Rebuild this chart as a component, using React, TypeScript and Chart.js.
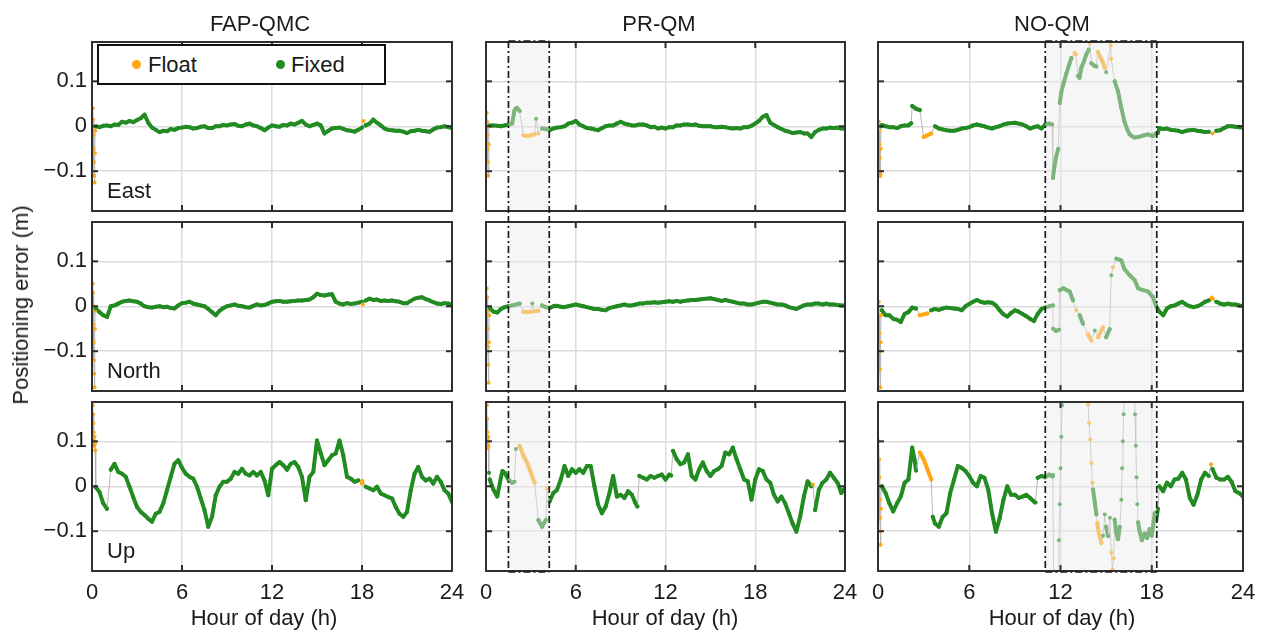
import React, { useEffect, useRef } from 'react';
import { Chart, registerables } from 'chart.js';

Chart.register(...registerables);

// ---------- axes / labels ----------
const X_TICKS = [0, 6, 12, 18, 24];
const Y_TICKS = [-0.1, 0, 0.1];
const Y_MIN = -0.1885;
const Y_MAX = 0.1875;
const METHODS = ['FAP-QMC', 'PR-QM', 'NO-QM'];
const COMPONENTS = ['East', 'North', 'Up'];
const LEGEND = ['Float', 'Fixed'];
const X_LABEL = 'Hour of day (h)';
const Y_LABEL = 'Positioning error (m)';

// shaded (outage) intervals, hours
const SHADE_PR = [1.5, 4.23];
const SHADE_NO = [11.0, 18.33];

// common sampling hours (every 15 min)
const STEP_H = 0.25;
const GRID_H = Array.from({ length: 97 }, (_, i) => i * STEP_H);

// ---------- FAP-QMC ----------
const FAP_E = [
  null, 0.000, -0.002, 0.001, 0.002, 0.000, 0.004, 0.003,
  0.010, 0.008, 0.012, 0.009, 0.014, 0.018, 0.026, 0.008,
  -0.003, -0.008, -0.013, -0.010, -0.011, -0.006, -0.008, -0.004,
  -0.003, -0.001, -0.002, -0.005, -0.004, -0.001, 0.000, -0.004,
  -0.004, 0.000, 0.000, 0.003, 0.002, 0.004, 0.005, 0.001,
  0.000, 0.004, 0.006, 0.002, 0.000, -0.004, -0.009, -0.003,
  0.002, 0.000, -0.001, 0.003, 0.002, 0.006, 0.004, 0.008,
  0.012, 0.004, 0.000, 0.003, 0.006, 0.002, -0.016, -0.010,
  -0.005, -0.004, -0.003, -0.006, -0.009, -0.010, -0.012, -0.008,
  -0.003, 0.002, 0.006, 0.015, 0.008, 0.002, -0.005, -0.008,
  -0.009, -0.010, -0.010, -0.012, -0.015, -0.011, -0.010, -0.008,
  -0.010, -0.011, -0.012, -0.007, -0.003, -0.002, 0.000, -0.002,
  -0.004,
];
const FAP_E_X = [[0.05, 0.04], [0.07, 0.015], [0.09, -0.02], [0.11, -0.05], [0.13, -0.08], [0.15, -0.11], [0.17, -0.125], [0.19, -0.06], [0.21, -0.01], [18.1, 0.012]];
const FAP_E_F = [[0, 0.22], [18.08, 18.12]];

const FAP_N = [
  null, -0.005, -0.013, -0.020, -0.024, 0.000, 0.002, 0.006,
  0.010, 0.012, 0.013, 0.011, 0.010, 0.006, 0.000, -0.002,
  -0.003, -0.001, 0.000, -0.002, -0.001, -0.004, -0.005, 0.002,
  0.007, 0.008, 0.010, 0.006, 0.004, 0.002, 0.000, -0.006,
  -0.013, -0.020, -0.010, -0.004, 0.000, 0.002, 0.004, 0.001,
  0.000, -0.002, -0.003, 0.001, 0.004, 0.002, 0.003, 0.006,
  0.010, 0.011, 0.012, 0.010, 0.010, 0.011, 0.012, 0.013,
  0.013, 0.014, 0.015, 0.020, 0.028, 0.025, 0.024, 0.026,
  0.027, 0.010, 0.006, 0.004, 0.007, 0.005, 0.006, 0.008,
  0.010, 0.013, 0.017, 0.014, 0.015, 0.012, 0.013, 0.012,
  0.013, 0.011, 0.010, 0.007, 0.007, 0.012, 0.017, 0.019,
  0.020, 0.016, 0.013, 0.009, 0.006, 0.005, 0.007, 0.006,
  0.004,
];
const FAP_N_X = [[0.05, 0.05], [0.07, 0.03], [0.09, 0.0], [0.1, -0.04], [0.12, -0.08], [0.13, -0.12], [0.15, -0.15], [0.17, -0.18], [0.19, -0.05], [0.21, -0.01], [18.05, 0.004]];
const FAP_N_F = [[0, 0.22], [18.03, 18.07]];

const FAP_U = [
  null, -0.002, -0.013, -0.038, -0.050, 0.037, 0.050, 0.032,
  0.028, 0.021, -0.001, -0.024, -0.046, -0.057, -0.064, -0.072,
  -0.079, -0.061, -0.057, -0.038, -0.009, 0.021, 0.050, 0.058,
  0.041, 0.028, 0.021, 0.017, -0.001, -0.027, -0.053, -0.090,
  -0.068, -0.020, -0.001, 0.010, 0.010, 0.017, 0.032, 0.028,
  0.039, 0.028, 0.024, 0.032, 0.024, 0.032, 0.013, -0.020,
  0.039, 0.047, 0.054, 0.047, 0.037, 0.050, 0.054, 0.043,
  0.021, -0.031, 0.021, 0.032, 0.102, 0.073, 0.047, 0.058,
  0.069, 0.073, 0.102, 0.069, 0.021, 0.017, 0.010, 0.013,
  0.006, -0.001, -0.005, -0.009, -0.001, -0.016, -0.020, -0.024,
  -0.027, -0.046, -0.061, -0.068, -0.057, -0.009, 0.028, 0.043,
  0.021, 0.013, 0.017, 0.006, 0.021, 0.010, -0.009, -0.016,
  -0.035,
];
const FAP_U_X = [[0.05, 0.18], [0.07, 0.16], [0.09, 0.14], [0.11, 0.12], [0.13, 0.1], [0.15, 0.09], [0.17, 0.11], [0.19, 0.095], [0.21, 0.08], [18.02, 0.012]];
const FAP_U_F = [[0, 0.22], [18.0, 18.04]];

// ---------- PR-QM ----------
const PR_E = [
  null, 0.002, 0.002, 0.001, 0.000, 0.002, 0.004, 0.006,
  0.040, 0.034, -0.020, -0.022, -0.020, -0.018, -0.016, -0.005,
  -0.006, -0.009, -0.005, -0.003, -0.002, 0.000, 0.006, 0.008,
  0.012, 0.004, 0.000, -0.004, -0.005, -0.007, -0.009, -0.004,
  0.000, 0.002, 0.002, 0.006, 0.010, 0.006, 0.004, 0.002,
  0.002, 0.004, 0.004, 0.002, -0.002, -0.001, -0.005, -0.003,
  -0.005, -0.002, -0.002, 0.002, 0.002, 0.004, 0.004, 0.003,
  0.004, 0.001, 0.000, 0.000, 0.000, -0.002, -0.002, -0.001,
  -0.002, -0.004, -0.005, -0.004, -0.005, -0.002, -0.002, 0.001,
  0.006, 0.012, 0.021, 0.025, 0.008, 0.003, -0.002, -0.006,
  -0.010, -0.012, -0.015, -0.014, -0.013, -0.016, -0.016, -0.024,
  -0.013, -0.008, -0.005, -0.005, -0.003, -0.004, -0.003, -0.005,
  -0.005,
];
const PR_E_X = [[0.05, 0.03], [0.07, 0.01], [0.09, -0.02], [0.11, -0.05], [0.13, -0.08], [0.15, -0.11], [0.17, -0.04], [0.2, 0.0], [1.9, 0.035], [2.07, 0.041], [3.35, 0.017]];
const PR_E_F = [[0, 0.22], [2.4, 3.3], [3.4, 3.6]];

const PR_N = [
  null, -0.004, -0.012, -0.014, -0.006, -0.002, 0.000, 0.002,
  0.004, 0.006, -0.012, -0.013, -0.012, -0.011, -0.010, 0.002,
  -0.002, -0.004, 0.000, 0.001, -0.001, -0.002, 0.000, 0.002,
  0.004, 0.002, 0.000, -0.002, -0.004, -0.006, -0.006, -0.008,
  -0.009, -0.004, -0.002, 0.000, 0.002, 0.004, 0.002, 0.002,
  0.004, 0.006, 0.006, 0.008, 0.008, 0.009, 0.008, 0.009,
  0.010, 0.011, 0.010, 0.012, 0.010, 0.012, 0.013, 0.014,
  0.014, 0.015, 0.016, 0.017, 0.018, 0.016, 0.014, 0.012,
  0.014, 0.012, 0.010, 0.008, 0.006, 0.006, 0.004, 0.004,
  0.006, 0.008, 0.010, 0.010, 0.008, 0.006, 0.004, 0.004,
  0.002, -0.002, -0.004, -0.006, -0.002, 0.002, 0.004, 0.004,
  0.006, 0.006, 0.004, 0.006, 0.004, 0.004, 0.003, 0.002,
  0.002,
];
const PR_N_X = [[0.05, 0.04], [0.07, 0.02], [0.09, -0.01], [0.11, -0.05], [0.13, -0.09], [0.15, -0.13], [0.17, -0.17], [0.19, -0.08], [0.21, -0.02], [3.1, 0.006]];
const PR_N_F = [[0, 0.22], [2.4, 3.05], [3.15, 3.6]];

const PR_U = [
  null, 0.015, -0.008, -0.023, 0.020, 0.030, 0.015, 0.008,
  0.083, 0.090, 0.068, 0.053, 0.030, 0.008, -0.075, -0.090,
  -0.075, -0.034, -0.015, -0.008, 0.015, 0.045, 0.023, 0.038,
  0.030, 0.038, 0.030, 0.045, 0.045, 0.000, -0.041, -0.060,
  -0.045, -0.015, 0.023, -0.023, -0.019, -0.026, -0.011, -0.019,
  -0.038, 0.023, 0.019, 0.015, 0.023, 0.019, 0.023, 0.026,
  0.015, 0.026, 0.079, 0.060, 0.049, 0.053, 0.071, 0.023,
  0.015, 0.038, 0.053, 0.034, 0.023, 0.034, 0.038, 0.045,
  0.075, 0.071, 0.086, 0.060, 0.038, 0.015, 0.011, -0.030,
  0.015, 0.038, 0.034, 0.015, 0.008, -0.019, -0.034, -0.023,
  -0.038, -0.060, -0.083, -0.101, -0.068, -0.023, 0.011, 0.000,
  -0.053, -0.008, 0.008, 0.015, 0.030, 0.019, 0.008, -0.015,
  -0.004,
];
const PR_U_X = [[0.05, 0.18], [0.07, 0.15], [0.09, 0.12], [0.11, 0.1], [0.13, 0.085], [0.15, 0.11], [0.17, 0.09], [0.2, 0.03], [1.1, 0.034], [1.9, 0.01], [4.08, -0.005], [10.12, -0.045], [12.38, 0.024], [21.85, 0.004]];
const PR_U_F = [[0, 0.19], [2.2, 3.3], [4.05, 4.1], [21.83, 21.87]];

// ---------- NO-QM ----------
const NO_E = [
  null, 0.003, 0.000, -0.002, -0.002, -0.004, 0.000, 0.002,
  0.002, 0.045, 0.039, 0.036, -0.024, -0.020, -0.016, 0.000,
  -0.005, -0.007, -0.009, -0.010, -0.010, -0.008, -0.005, -0.004,
  -0.002, 0.002, 0.004, 0.002, 0.000, -0.003, -0.005, -0.002,
  0.000, 0.004, 0.006, 0.007, 0.008, 0.006, 0.004, 0.000,
  -0.005, -0.002, 0.000, -0.005, null, null, null, null,
  null, null, null, null, null, null, null, null,
  null, null, null, null, null, null, null, null,
  null, null, null, null, null, null, null, null,
  null, null, -0.004, -0.006, -0.005, -0.008, -0.009, -0.010,
  -0.013, -0.010, -0.009, -0.008, -0.010, -0.011, -0.013, -0.012,
  -0.016, -0.010, -0.009, -0.004, 0.000, 0.000, -0.001, -0.002,
  -0.003,
];
const NO_E_X = [
  [0.05, 0.01], [0.07, -0.01], [0.09, -0.04], [0.11, -0.07], [0.13, -0.1], [0.15, -0.11], [0.17, -0.05], [0.2, 0.0], [2.18, 0.007],
  [11.0, 0.004], [11.25, 0.006], [11.45, 0.004], [11.5, -0.115], [11.6, -0.09], [11.7, -0.07], [11.85, -0.05], [11.95, 0.052], [12.06, 0.077],
  [12.2, 0.095], [12.39, 0.118], [12.55, 0.135], [12.72, 0.152], [12.93, 0.163], [13.0, 0.16], [13.15, 0.112], [13.25, 0.108], [13.37, 0.13],
  [13.55, 0.145], [13.7, 0.16], [13.85, 0.17], [13.92, 0.186], [14.03, 0.14], [14.2, 0.135], [14.36, 0.133], [14.45, 0.165], [14.6, 0.155],
  [14.75, 0.145], [14.91, 0.13], [15.0, 0.12], [15.3, 0.18], [15.34, 0.15], [15.56, 0.1], [15.78, 0.078], [16.0, 0.041], [16.2, 0.011],
  [16.4, -0.008], [16.55, -0.018], [16.7, -0.022], [16.87, -0.025], [17.1, -0.024], [17.31, -0.022], [17.5, -0.02], [17.75, -0.018],
  [17.9, -0.02], [18.08, -0.022], [18.25, -0.016], [18.4, -0.015],
];
const NO_E_F = [[0, 0.19], [2.8, 3.6], [12.9, 13.05], [13.9, 13.95], [14.4, 14.95], [15.28, 15.37], [21.95, 22.05]];

const NO_N = [
  null, -0.009, -0.020, -0.020, -0.028, -0.030, -0.035, -0.017,
  -0.013, -0.003, -0.005, -0.020, -0.018, -0.016, -0.009, -0.006,
  -0.008, -0.005, -0.003, -0.004, -0.005, -0.006, -0.009, 0.000,
  0.005, 0.010, 0.014, 0.010, 0.008, 0.009, 0.008, 0.002,
  -0.009, -0.018, -0.023, -0.015, -0.009, -0.012, -0.017, -0.022,
  -0.028, -0.033, -0.017, -0.006, -0.003, 0.000, null, null,
  null, null, null, null, null, null, null, null,
  null, null, null, null, null, null, null, null,
  null, null, null, null, null, null, null, null,
  null, null, -0.012, -0.020, -0.005, 0.000, 0.002, 0.006,
  0.010, 0.004, 0.000, -0.002, 0.000, 0.004, 0.010, 0.013,
  0.017, 0.010, 0.006, 0.004, 0.006, 0.004, 0.004, 0.002,
  0.000,
];
const NO_N_X = [
  [0.05, 0.01], [0.07, -0.02], [0.09, -0.06], [0.11, -0.1], [0.13, -0.14], [0.15, -0.18], [0.17, -0.08], [0.2, -0.02],
  [11.5, 0.002], [11.52, -0.05], [11.7, -0.055], [11.9, -0.052], [11.95, 0.036], [12.2, 0.04], [12.4, 0.036], [12.6, 0.033], [12.83, 0.013],
  [13.04, -0.009], [13.26, -0.02], [13.48, -0.039], [13.8, -0.062], [14.03, -0.076], [14.25, -0.054], [14.47, -0.069], [14.8, -0.047],
  [15.0, -0.069], [15.23, -0.051], [15.34, 0.069], [15.45, 0.087], [15.67, 0.106], [16.0, 0.102], [16.2, 0.083], [16.55, 0.069],
  [16.88, 0.058], [17.1, 0.04], [17.42, 0.036], [17.75, 0.033], [18.07, 0.021], [18.3, -0.001], [21.95, 0.019],
];
const NO_N_F = [[0, 0.21], [2.6, 3.3], [12.98, 13.1], [13.7, 14.1], [14.4, 14.9], [15.4, 15.5], [21.9, 22.0]];

const NO_U = [
  null, 0.000, -0.015, -0.038, -0.056, -0.038, -0.023, 0.008,
  0.015, 0.086, 0.035, 0.075, 0.060, 0.038, 0.015, -0.083,
  -0.090, -0.068, -0.060, -0.015, 0.015, 0.045, 0.041, 0.034,
  0.023, 0.008, 0.000, 0.023, 0.019, -0.008, -0.060, -0.101,
  -0.071, -0.030, 0.000, -0.019, -0.019, -0.026, -0.023, -0.019,
  -0.026, -0.034, 0.019, 0.023, null, null, null, null,
  null, null, null, null, null, null, null, null,
  null, null, null, null, null, null, null, null,
  null, null, null, null, null, null, null, null,
  null, null, 0.000, -0.011, 0.008, 0.000, 0.015, 0.017,
  0.030, 0.015, -0.026, -0.041, -0.019, 0.015, 0.030, 0.023,
  0.038, 0.019, 0.015, 0.015, 0.021, 0.010, -0.011, -0.015,
  -0.023,
];
const NO_U_X = [
  [0.05, 0.1], [0.07, 0.06], [0.09, 0.02], [0.11, -0.03], [0.13, -0.07], [0.15, -0.1], [0.17, -0.13], [0.19, -0.05], [0.21, 0.0],
  [2.4, 0.06], [3.6, -0.068], [10.35, -0.036],
  [11.0, 0.02], [11.25, 0.026], [11.45, 0.022], [11.5, 0.025], [11.55, -0.25], [11.85, -0.25], [11.9, -0.12], [11.95, -0.04], [12.0, 0.04],
  [12.05, 0.11], [12.1, 0.18], [12.15, 0.25], [13.78, 0.25], [13.81, 0.182], [13.88, 0.141], [13.95, 0.104], [14.03, 0.052], [14.1, 0.008],
  [14.14, -0.007], [14.25, -0.035], [14.36, -0.063], [14.42, -0.081], [14.5, -0.1], [14.6, -0.115], [14.69, -0.126], [14.8, -0.11],
  [14.91, -0.063], [15.0, -0.09], [15.13, -0.111], [15.25, -0.07], [15.34, -0.148], [15.42, -0.185], [15.5, -0.16], [15.56, -0.074],
  [15.65, -0.1], [15.78, -0.118], [15.9, -0.09], [16.0, -0.03], [16.05, 0.04], [16.1, 0.1], [16.15, 0.16], [16.2, 0.25], [16.85, 0.25],
  [16.9, 0.16], [16.95, 0.09], [17.0, 0.02], [17.05, -0.04], [17.1, -0.08], [17.2, -0.1], [17.35, -0.12], [17.53, -0.105], [17.7, -0.115],
  [17.86, -0.095], [18.0, -0.11], [18.1, -0.085], [18.19, -0.06], [18.3, -0.075], [18.4, -0.05], [21.9, 0.049],
];
const NO_U_F = [[0, 0.22], [2.6, 3.55], [13.75, 14.12], [14.4, 14.75], [15.3, 15.52], [21.88, 21.92]];

const PANELS = [
  [{ v: FAP_E, x: FAP_E_X, f: FAP_E_F }, { v: PR_E, x: PR_E_X, f: PR_E_F }, { v: NO_E, x: NO_E_X, f: NO_E_F }],
  [{ v: FAP_N, x: FAP_N_X, f: FAP_N_F }, { v: PR_N, x: PR_N_X, f: PR_N_F }, { v: NO_N, x: NO_N_X, f: NO_N_F }],
  [{ v: FAP_U, x: FAP_U_X, f: FAP_U_F }, { v: PR_U, x: PR_U_X, f: PR_U_F }, { v: NO_U, x: NO_U_X, f: NO_U_F }],
];
const SHADES = [null, SHADE_PR, SHADE_NO];

// ---------- layout & style ----------
const FONT = "'Liberation Sans', Arial, Helvetica, sans-serif";
const FS = 22;
const TEXT = '#1a1a1a';
const GREEN = 'rgb(34,139,34)';
const ORANGE = 'rgb(255,168,20)';
const LINK = 'rgba(175,175,175,0.9)';
const GRID = '#dcdcdc';
const FRAME = '#2f2f2f';

// canvas bounds (cl/cr, ct/cb) and plot-area bounds (al/ar, at/ab), px
const COLS = [
  { cl: 0, cr: 468, al: 92, ar: 452, titleX: 260, labelX: 264 },
  { cl: 468, cr: 861, al: 486, ar: 845, titleX: 659, labelX: 665 },
  { cl: 861, cr: 1263, al: 878, ar: 1243, titleX: 1052, labelX: 1062 },
];
const ROWS = [
  { ct: 0, cb: 216, at: 42, ab: 211 },
  { ct: 216, cb: 396, at: 222, ab: 391 },
  { ct: 396, cb: 634, at: 402, ab: 571 },
];

function buildPoints(v: (number | null)[], extra: number[][]) {
  const pts: { x: number; y: number }[] = [];
  v.forEach((y, i) => { if (y !== null) pts.push({ x: GRID_H[i], y }); });
  extra.forEach(([x, y]) => pts.push({ x, y }));
  pts.sort((a, b) => a.x - b.x);
  return pts;
}
const inFloat = (h: number, ranges: number[][]) => ranges.some(([a, b]) => h >= a && h <= b);

const panelDecor = {
  id: 'panelDecor',
  afterDatasetsDraw(chart: any, _args: any, opts: any) {
    const { ctx, chartArea: a } = chart;
    const xs = chart.scales.x, ys = chart.scales.y;
    const line = (x1: number, y1: number, x2: number, y2: number) => {
      ctx.beginPath(); ctx.moveTo(x1, y1); ctx.lineTo(x2, y2); ctx.stroke();
    };
    ctx.save();
    let x0 = 0, x1 = 0;
    if (opts.shade) {
      x0 = xs.getPixelForValue(opts.shade[0]);
      x1 = xs.getPixelForValue(opts.shade[1]);
      ctx.fillStyle = 'rgba(236,236,236,0.45)';
      ctx.fillRect(x0, a.top, x1 - x0, a.bottom - a.top);
    }
    ctx.strokeStyle = FRAME;
    ctx.lineWidth = 2;
    ctx.strokeRect(a.left, a.top, a.right - a.left, a.bottom - a.top);
    const T = 6;
    X_TICKS.forEach((v) => {
      const px = xs.getPixelForValue(v);
      line(px, a.top, px, a.top + T);
      line(px, a.bottom, px, a.bottom - T);
    });
    Y_TICKS.forEach((v) => {
      const py = ys.getPixelForValue(v);
      line(a.left, py, a.left + T, py);
      line(a.right, py, a.right - T, py);
    });
    if (opts.shade) {
      ctx.strokeStyle = '#1c1c1c';
      ctx.lineWidth = 1.7;
      ctx.setLineDash([7, 3, 2, 3]);
      const top = opts.row === 0 ? a.top - 1 : 0;
      const bottom = opts.row === 2 ? a.bottom + 1 : chart.height;
      line(x0, top, x0, bottom);
      line(x1, top, x1, bottom);
      if (opts.row === 0) line(x0, a.top - 1, x1, a.top - 1);
      if (opts.row === 2) line(x0, a.bottom + 1, x1, a.bottom + 1);
    }
    ctx.restore();
  },
};

const fmtY = (v: number) => (Math.abs(v) < 1e-9 ? '0' : v > 0 ? '0.1' : '\u22120.1');

export default function App() {
  const refs = useRef<(HTMLCanvasElement | null)[]>([]);

  useEffect(() => {
    const charts: Chart[] = [];
    ROWS.forEach((row, r) => {
      COLS.forEach((col, c) => {
        const cv = refs.current[r * 3 + c];
        if (!cv) return;
        const p = PANELS[r][c];
        const pts = buildPoints(p.v as (number | null)[], p.x);
        const fl = pts.map((pt) => inFloat(pt.x, p.f));
        const segStyle = (ctx: any) => {
          const i0 = ctx.p0DataIndex, i1 = ctx.p1DataIndex;
          const a = pts[i0], b = pts[i1];
          const dy = Math.abs(b.y - a.y), dx = Math.max(b.x - a.x, 1e-6);
          const jump = (dy > 0.012 && dy / dx > 0.3) || dx > 0.6;
          if (jump || fl[i0] !== fl[i1]) return null;
          return fl[i0] ? ORANGE : GREEN;
        };
        const chart = new Chart(cv, {
          type: 'line',
          data: {
            datasets: [{
              label: `${METHODS[c]} ${COMPONENTS[r]}`,
              data: pts,
              borderColor: LINK,
              borderWidth: 1,
              borderJoinStyle: 'round',
              borderCapStyle: 'round',
              pointRadius: 2,
              pointHoverRadius: 2,
              pointBorderWidth: 0,
              pointBackgroundColor: fl.map((f) => (f ? ORANGE : GREEN)),
              pointBorderColor: fl.map((f) => (f ? ORANGE : GREEN)),
              tension: 0,
              fill: false,
              segment: {
                borderColor: (ctx: any) => segStyle(ctx) || LINK,
                borderWidth: (ctx: any) => (segStyle(ctx) ? 4 : 1),
              },
            }],
          },
          options: {
            responsive: false,
            animation: false,
            events: [],
            layout: { padding: { left: 0, right: col.cr - col.ar, top: row.at - row.ct, bottom: 0 } },
            plugins: {
              legend: { display: false },
              tooltip: { enabled: false },
              panelDecor: { shade: SHADES[c], row: r },
            } as any,
            scales: {
              x: {
                type: 'linear',
                min: 0,
                max: 24,
                afterBuildTicks: (s: any) => { s.ticks = X_TICKS.map((v) => ({ value: v })); },
                afterFit: (s: any) => {
                  s.height = row.cb - row.ab;
                  s.paddingLeft = 0; s.paddingRight = 0; s.paddingTop = 0; s.paddingBottom = 0;
                },
                grid: { color: GRID, lineWidth: 1.5, drawTicks: false },
                border: { display: false },
                ticks: {
                  display: r === 2,
                  padding: 9,
                  maxRotation: 0,
                  autoSkip: false,
                  color: TEXT,
                  font: { family: FONT, size: FS },
                },
              },
              y: {
                min: Y_MIN,
                max: Y_MAX,
                afterBuildTicks: (s: any) => { s.ticks = Y_TICKS.map((v) => ({ value: v })); },
                afterFit: (s: any) => {
                  s.width = col.al - col.cl;
                  s.paddingLeft = 0; s.paddingRight = 0; s.paddingTop = 0; s.paddingBottom = 0;
                },
                grid: { color: GRID, lineWidth: 1.5, drawTicks: false },
                border: { display: false },
                ticks: {
                  display: c === 0,
                  padding: 5,
                  color: TEXT,
                  font: { family: FONT, size: FS },
                  callback: (v: any) => fmtY(Number(v)),
                },
              },
            },
          } as any,
          plugins: [panelDecor as any],
        });
        charts.push(chart);
      });
    });
    return () => charts.forEach((ch) => ch.destroy());
  }, []);

  const txt: React.CSSProperties = {
    position: 'absolute',
    fontFamily: FONT,
    fontSize: FS,
    lineHeight: `${FS}px`,
    color: TEXT,
    whiteSpace: 'nowrap',
  };

  return (
    <div style={{ position: 'absolute', left: 0, top: 0, width: 1263, height: 634, background: '#fff', overflow: 'hidden' }}>
      {ROWS.map((row, r) =>
        COLS.map((col, c) => (
          <canvas
            key={`${r}-${c}`}
            ref={(el) => { refs.current[r * 3 + c] = el; }}
            width={col.cr - col.cl}
            height={row.cb - row.ct}
            style={{ position: 'absolute', left: col.cl, top: row.ct, width: col.cr - col.cl, height: row.cb - row.ct, display: 'block' }}
          />
        ))
      )}
      {METHODS.map((m, c) => (
        <div key={m} style={{ ...txt, top: 13, left: COLS[c].titleX, transform: 'translateX(-50%)' }}>{m}</div>
      ))}
      {METHODS.map((m, c) => (
        <div key={`xl-${m}`} style={{ ...txt, top: 607, left: COLS[c].labelX, transform: 'translateX(-50%)' }}>{X_LABEL}</div>
      ))}
      {COMPONENTS.map((name, r) => (
        <div key={name} style={{ ...txt, left: 107, top: ROWS[r].ab - 31 }}>{name}</div>
      ))}
      <div style={{ ...txt, left: 21, top: 305, transform: 'translate(-50%, -50%) rotate(-90deg)' }}>{Y_LABEL}</div>
      <div style={{ position: 'absolute', left: 97, top: 44, width: 289, height: 41, boxSizing: 'border-box', border: '2px solid #111', background: '#fff' }}>
        <div style={{ position: 'absolute', left: 33, top: 14, width: 9, height: 9, borderRadius: '50%', background: ORANGE }} />
        <div style={{ ...txt, left: 49, top: 8 }}>{LEGEND[0]}</div>
        <div style={{ position: 'absolute', left: 177, top: 14, width: 9, height: 9, borderRadius: '50%', background: GREEN }} />
        <div style={{ ...txt, left: 192, top: 8 }}>{LEGEND[1]}</div>
      </div>
    </div>
  );
}
